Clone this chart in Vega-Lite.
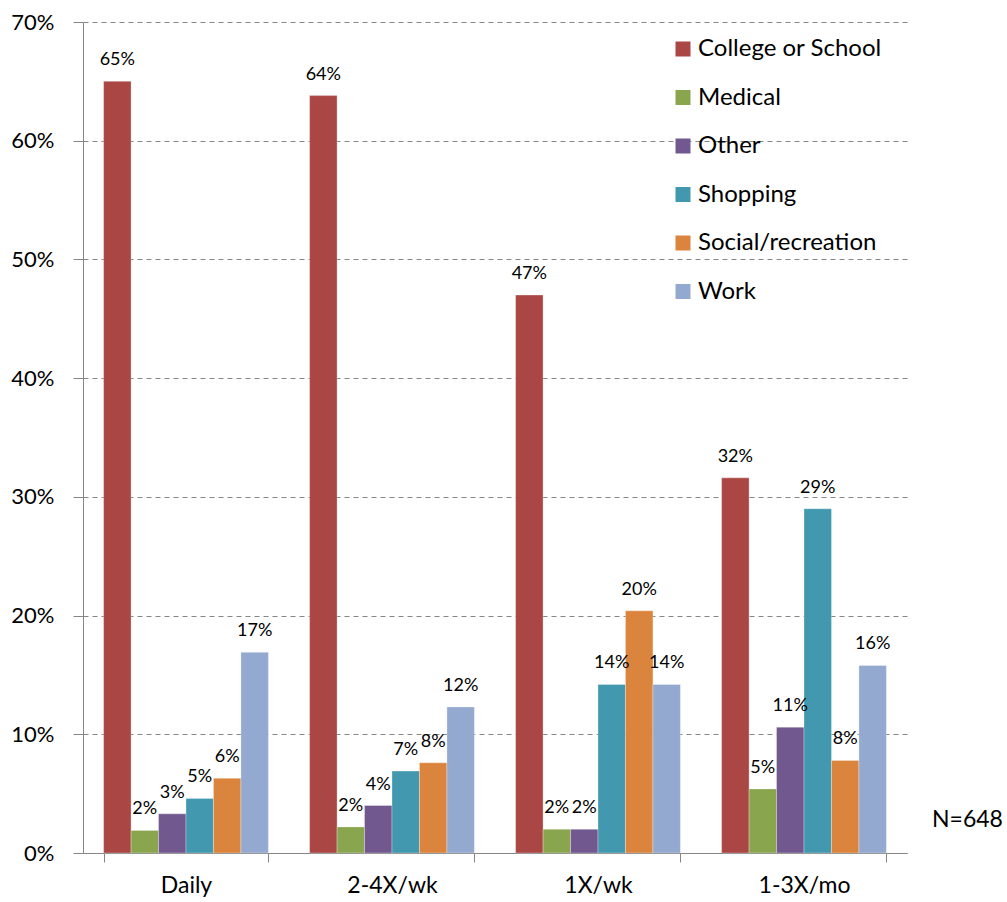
{
  "$schema": "https://vega.github.io/schema/vega-lite/v6.json",
  "width": 824,
  "height": 831,
  "autosize": "none",
  "padding": {"left": 83, "top": 22, "right": 100, "bottom": 49},
  "background": "white",
  "config": {"view": {"stroke": null}, "font": "Lato"},
  "title": {"text": "N=648", "orient": "bottom", "frame": "group", "anchor": "end", "align": "left", "baseline": "middle", "dx": 25, "dy": -77, "fontSize": 23, "fontWeight": "normal", "color": "#000000", "offset": 0, "font": "Lato"},
  "data": {"values": [
    {"freq": "Daily", "purpose": "College or School", "value": 0.650},
    {"freq": "Daily", "purpose": "Medical", "value": 0.019},
    {"freq": "Daily", "purpose": "Other", "value": 0.033},
    {"freq": "Daily", "purpose": "Shopping", "value": 0.046},
    {"freq": "Daily", "purpose": "Social/recreation", "value": 0.063},
    {"freq": "Daily", "purpose": "Work", "value": 0.169},
    {"freq": "2-4X/wk", "purpose": "College or School", "value": 0.638},
    {"freq": "2-4X/wk", "purpose": "Medical", "value": 0.022},
    {"freq": "2-4X/wk", "purpose": "Other", "value": 0.040},
    {"freq": "2-4X/wk", "purpose": "Shopping", "value": 0.069},
    {"freq": "2-4X/wk", "purpose": "Social/recreation", "value": 0.076},
    {"freq": "2-4X/wk", "purpose": "Work", "value": 0.123},
    {"freq": "1X/wk", "purpose": "College or School", "value": 0.470},
    {"freq": "1X/wk", "purpose": "Medical", "value": 0.020},
    {"freq": "1X/wk", "purpose": "Other", "value": 0.020},
    {"freq": "1X/wk", "purpose": "Shopping", "value": 0.142},
    {"freq": "1X/wk", "purpose": "Social/recreation", "value": 0.204},
    {"freq": "1X/wk", "purpose": "Work", "value": 0.142},
    {"freq": "1-3X/mo", "purpose": "College or School", "value": 0.316},
    {"freq": "1-3X/mo", "purpose": "Medical", "value": 0.054},
    {"freq": "1-3X/mo", "purpose": "Other", "value": 0.106},
    {"freq": "1-3X/mo", "purpose": "Shopping", "value": 0.290},
    {"freq": "1-3X/mo", "purpose": "Social/recreation", "value": 0.078},
    {"freq": "1-3X/mo", "purpose": "Work", "value": 0.158}
  ]},
  "encoding": {
    "x": {
      "field": "freq", "type": "nominal",
      "sort": ["Daily", "2-4X/wk", "1X/wk", "1-3X/mo"],
      "scale": {"paddingInner": 0.2, "paddingOuter": 0.1},
      "axis": {"title": null, "labelAngle": 0, "tickBand": "extent", "labelFontSize": 23, "labelColor": "#000000", "labelPadding": 12, "tickSize": 9, "tickColor": "#868686", "domainColor": "#868686", "grid": false, "labelFont": "Lato"}
    },
    "xOffset": {"field": "purpose", "type": "nominal", "sort": ["College or School", "Medical", "Other", "Shopping", "Social/recreation", "Work"]},
    "y": {
      "field": "value", "type": "quantitative",
      "scale": {"domain": [0, 0.7], "nice": false},
      "axis": {"title": null, "format": ".0%", "values": [0, 0.1, 0.2, 0.3, 0.4, 0.5, 0.6, 0.7], "labelFontSize": 22, "labelColor": "#000000", "labelPadding": 19, "tickSize": 10, "tickColor": "#868686", "domainColor": "#868686", "grid": true, "gridColor": "#868686", "gridDash": [5, 4], "gridWidth": 1, "labelFont": "Lato"}
    }
  },
  "layer": [
    {
      "mark": {"type": "bar", "stroke": "white", "strokeWidth": 0.5, "strokeOpacity": 0.6},
      "encoding": {
        "color": {
          "field": "purpose", "type": "nominal",
          "scale": {"domain": ["College or School", "Medical", "Other", "Shopping", "Social/recreation", "Work"], "range": ["#AA4643", "#89A54E", "#71588F", "#4198AF", "#DB843D", "#93A9CF"]},
          "legend": {"title": null, "orient": "none", "legendX": 588, "legendY": 15, "symbolType": "square", "symbolSize": 225, "symbolStrokeWidth": 0, "labelFontSize": 24, "labelColor": "#000000", "labelFont": "Lato", "labelLimit": 0, "rowPadding": 24.5, "labelOffset": 3}
        }
      }
    },
    {
      "mark": {"type": "text", "baseline": "alphabetic", "dy": -16, "fontSize": 18, "color": "#000000", "font": "Lato"},
      "encoding": {"text": {"field": "value", "type": "quantitative", "format": ".0%"}}
    }
  ]
}
